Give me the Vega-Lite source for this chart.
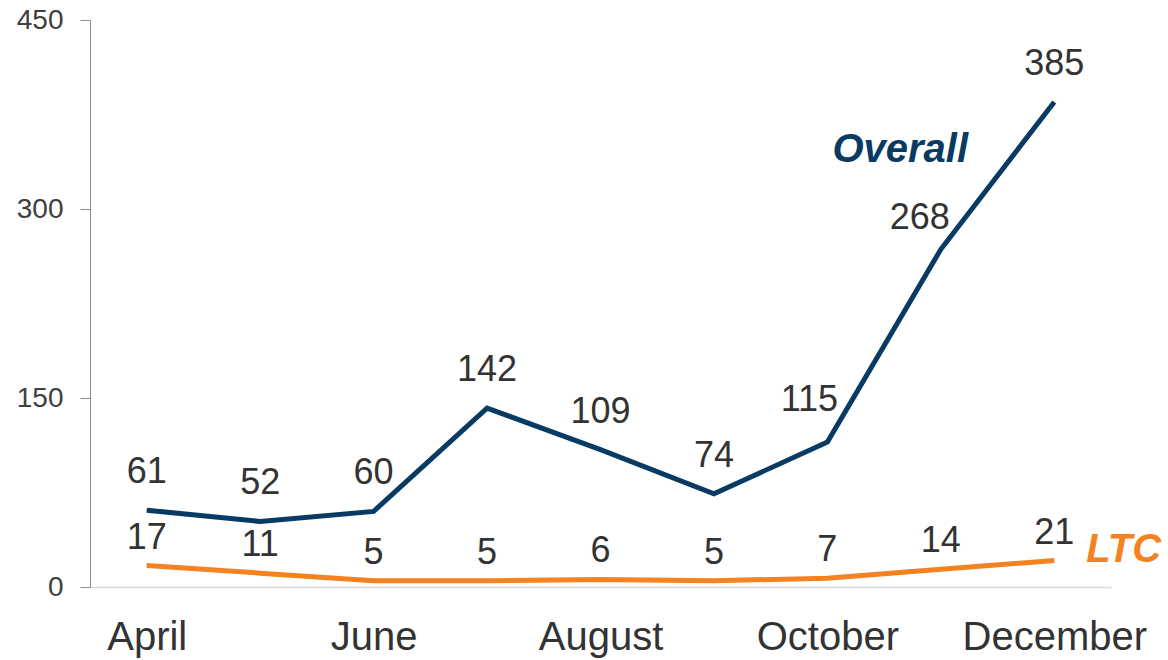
{
  "$schema": "https://vega.github.io/schema/vega-lite/v6.json",
  "width": 1021,
  "height": 567,
  "autosize": {"type": "none"},
  "padding": {"left": 90, "top": 20, "right": 57, "bottom": 73},
  "background": "white",
  "config": {
    "view": {"stroke": null},
    "font": "Liberation Sans",
    "text": {"font": "Liberation Sans"}
  },
  "data": {
    "values": [
      {"month": "April", "series": "Overall", "value": 61},
      {"month": "May", "series": "Overall", "value": 52},
      {"month": "June", "series": "Overall", "value": 60},
      {"month": "July", "series": "Overall", "value": 142},
      {"month": "August", "series": "Overall", "value": 109},
      {"month": "September", "series": "Overall", "value": 74},
      {"month": "October", "series": "Overall", "value": 115},
      {"month": "November", "series": "Overall", "value": 268},
      {"month": "December", "series": "Overall", "value": 385},
      {"month": "April", "series": "LTC", "value": 17},
      {"month": "May", "series": "LTC", "value": 11},
      {"month": "June", "series": "LTC", "value": 5},
      {"month": "July", "series": "LTC", "value": 5},
      {"month": "August", "series": "LTC", "value": 6},
      {"month": "September", "series": "LTC", "value": 5},
      {"month": "October", "series": "LTC", "value": 7},
      {"month": "November", "series": "LTC", "value": 14},
      {"month": "December", "series": "LTC", "value": 21}
    ]
  },
  "encoding": {
    "x": {
      "field": "month",
      "type": "ordinal",
      "sort": ["April", "May", "June", "July", "August", "September", "October", "November", "December"],
      "scale": {"type": "point", "padding": 0.5},
      "axis": {
        "title": null,
        "values": ["April", "June", "August", "October", "December"],
        "labelAngle": 0,
        "labelFontSize": 40,
        "labelColor": "#333333",
        "labelPadding": 30,
        "labelLimit": 400,
        "labelOverlap": false,
        "ticks": false,
        "domainColor": "#d9d9d9",
        "domainWidth": 1.5,
        "grid": false
      }
    },
    "y": {
      "field": "value",
      "type": "quantitative",
      "scale": {"domain": [0, 450], "nice": false},
      "axis": {
        "title": null,
        "values": [0, 150, 300, 450],
        "labelFontSize": 28,
        "labelColor": "#404040",
        "labelPadding": 17,
        "tickSize": 10,
        "tickColor": "#8c8c8c",
        "domainColor": "#8c8c8c",
        "grid": false
      }
    },
    "color": {
      "field": "series",
      "type": "nominal",
      "scale": {"domain": ["Overall", "LTC"], "range": ["#073b63", "#f58220"]},
      "legend": null
    }
  },
  "layer": [
    {"mark": {"type": "line", "strokeWidth": 5}},
    {
      "transform": [{"filter": "datum.series == 'Overall' && datum.month != 'October' && datum.month != 'November'"}],
      "mark": {"type": "text", "dy": -38, "fontSize": 36, "baseline": "middle"},
      "encoding": {"text": {"field": "value"}, "color": {"value": "#333333"}}
    },
    {
      "transform": [{"filter": "datum.series == 'Overall' && datum.month == 'October'"}],
      "mark": {"type": "text", "dx": -18, "dy": -42, "fontSize": 36, "baseline": "middle"},
      "encoding": {"text": {"field": "value"}, "color": {"value": "#333333"}}
    },
    {
      "transform": [{"filter": "datum.series == 'Overall' && datum.month == 'November'"}],
      "mark": {"type": "text", "dx": -21, "dy": -31, "fontSize": 36, "baseline": "middle"},
      "encoding": {"text": {"field": "value"}, "color": {"value": "#333333"}}
    },
    {
      "transform": [{"filter": "datum.series == 'LTC'"}],
      "mark": {"type": "text", "dy": -28, "fontSize": 36, "baseline": "middle"},
      "encoding": {"text": {"field": "value"}, "color": {"value": "#333333"}}
    },
    {
      "transform": [{"filter": "datum.series == 'Overall' && datum.month == 'December'"}],
      "mark": {"type": "text", "dx": -154, "dy": 48, "fontSize": 40, "fontWeight": "bold", "fontStyle": "italic", "baseline": "middle"},
      "encoding": {"text": {"field": "series"}}
    },
    {
      "transform": [{"filter": "datum.series == 'LTC' && datum.month == 'December'"}],
      "mark": {"type": "text", "dx": 32, "dy": -11, "align": "left", "fontSize": 40, "fontWeight": "bold", "fontStyle": "italic", "baseline": "middle"},
      "encoding": {"text": {"field": "series"}}
    }
  ]
}
